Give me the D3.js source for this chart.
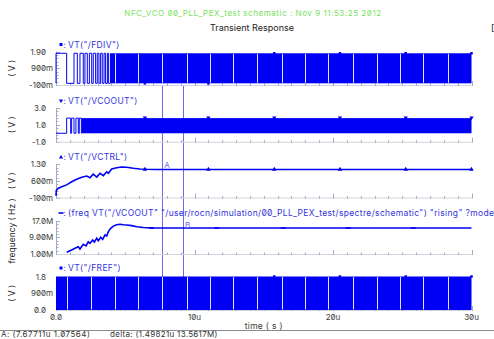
<!DOCTYPE html>
<html>
<head>
<meta charset="utf-8">
<script src="https://cdn.jsdelivr.net/npm/d3@7/dist/d3.min.js"></script>
<style>
  html, body { margin: 0; padding: 0; background: #ffffff; }
  svg { display: block; }
  text { font-family: Inter, "DejaVu Sans", sans-serif; font-feature-settings: "zero" 1; }
</style>
</head>
<body>
<svg id="chart" width="494" height="339"></svg>
<script>
// ---------------- data ----------------
const timeTicks = [0, 10, 20, 30];                       // µs
const timeTickLabels = ["0.0", "10u", "20u", "30u"];

const traceNames = [
  'VT("/FDIV")',
  'VT("/VCOOUT")',
  'VT("/VCTRL")',
  '(freq VT("/VCOOUT" "/user/rocn/simulation/00_PLL_PEX_test/spectre/schematic") "rising" ?mode',
  'VT("/FREF")'
];
const traceSymbols = ["square", "triDown", "triUp", "dash", "square"];
const yTicks = [[-0.1, 0.9, 1.9], [-1, 1, 3], [-0.1, 0.6, 1.3], [1, 9, 17], [0, 0.9, 1.8]];
const yTickLabels = [
  ["-100m", "900m", "1.90"], ["-1.0", "1.0", "3.0"], ["-100m", "600m", "1.30"],
  ["1.00M", "9.00M", "17.0M"], ["0.0", "900m", "1.8"]
];
const yUnits = ["( V )", "( V )", "( V )", "frequency ( Hz )", "( V )"];

// digital levels (V)
const clockLow = 0, clockHigh = 1.8;

// FDIV: starts high, toggles at each edge (µs), then becomes too dense to resolve
const fdivEdges = [0.77, 1.30, 1.54, 1.73, 1.97, 2.09, 2.26, 2.41, 2.58, 2.69, 2.86,
                   2.98, 3.10, 3.22, 3.34, 3.47, 3.58, 3.71, 3.80];
const fdivDenseFrom = 3.90;
// VCOOUT: starts low
const vcoEdges = [0.77, 1.06, 1.13, 1.30, 1.44, 1.61, 1.68, 1.83];
const vcoDenseFrom = 1.85;
const frefDenseFrom = 0;
// instants where the dense clocks FDIV/FREF show an open gap
const clockGapTimes = [0.77, 2.51, 4.26, 5.94, 7.67, 9.44, 11.12, 12.78, 14.49, 16.30,
                       17.98, 19.66, 21.47, 23.16, 24.84, 26.52, 28.33];

// VCTRL (V)
const vctrlT = [0, 0.02, 0.17, 0.41, 0.77, 1.13, 1.49, 1.86, 2.22, 2.45, 2.69, 2.94, 3.18,
                3.42, 3.66, 3.78, 4.02, 4.38, 4.74, 5.10, 5.58, 6.06, 6.55, 7.20, 30];
const vctrlV = [-0.03, 0.20, 0.29, 0.35, 0.43, 0.56, 0.67, 0.75, 0.80, 0.73, 0.88, 0.76, 0.92,
                0.82, 0.98, 0.92, 1.10, 1.15, 1.18, 1.17, 1.13, 1.10, 1.085, 1.076, 1.07564];

// VCO frequency (MHz)
const freqT = [0.77, 1.13, 1.37, 1.61, 1.73, 1.97, 2.17, 2.33, 2.45, 2.65, 2.77, 2.94, 3.06,
               3.23, 3.37, 3.54, 3.66, 3.78, 3.95, 4.14, 4.38, 4.62, 4.86, 5.10, 5.47, 5.83,
               6.30, 6.90, 7.50, 30];
const freqMHz = [1.8, 2.9, 3.75, 4.5, 3.4, 5.7, 4.9, 6.9, 6.2, 7.8, 6.8, 8.6, 7.4,
                 9.1, 8.1, 10.2, 9.7, 11.8, 13.4, 14.5, 15.15, 15.35, 15.15, 15.0, 14.7, 14.2,
                 13.8, 13.62, 13.57, 13.5617];

const markerTimes = [6.42, 11.0, 15.76, 20.5, 25.25, 30.0];
const freqMarkerTimes = [6.9, 11.6, 16.4, 21.1, 25.8];

// cursors: [time µs, value]
const cursorA = [7.67711, 1.07564];          // on VCTRL (V)
const cursorB = [9.17532, 13.5617];          // on frequency (MHz)

// ---------------- layout ----------------
const svg = d3.select("#chart");
const BLUE = "#0000f4", TITLE = "#3434dc", CURSOR = "#6c6cea", AXIS = "#a9a9c4", INK = "#3a3a3a";

const x = d3.scaleLinear().domain([0, 30]).range([56, 471.5]);

const panels = [
  { domain: [-0.1, 1.9], range: [85, 51.6], titleY: 47 },
  { domain: [-1, 3],     range: [141.7, 108], titleY: 103.5 },
  { domain: [-0.1, 1.3], range: [197.5, 164.2], titleY: 159.5 },
  { domain: [1, 17],     range: [254, 220.9], titleY: 215.5 },
  { domain: [0, 1.8],    range: [310, 276.5], titleY: 270.5 }
];
const ys = panels.map(p => d3.scaleLinear().domain(p.domain).range(p.range));

// header
svg.append("text").attr("x", 253).attr("y", 16).attr("text-anchor", "middle")
  .attr("font-size", 8).attr("letter-spacing", 0.55).attr("fill", "#78e35c")
  .text("NFC_VCO 00_PLL_PEX_test schematic : Nov  9 11:53:25 2012");
svg.append("text").attr("x", 252).attr("y", 31).attr("text-anchor", "middle")
  .attr("font-size", 9).attr("fill", "#222").text("Transient Response");
svg.append("text").attr("x", 491).attr("y", 31).attr("font-size", 9).attr("fill", "#222").text("[");

// cursor verticals (beneath traces)
const cursorG = svg.append("g");
[cursorA, cursorB].forEach(c => {
  cursorG.append("line")
    .attr("x1", Math.round(x(c[0])) + 0.5).attr("x2", Math.round(x(c[0])) + 0.5)
    .attr("y1", 86).attr("y2", 309)
    .attr("stroke", CURSOR).attr("stroke-width", 1);
});

// symbol painter
function marker(g, kind, cx, cy, size) {
  const s = size || 3;
  let p;
  if (kind === "square") p = `M${cx - s / 2},${cy - s / 2}h${s}v${s}h${-s}z`;
  else if (kind === "triUp") p = `M${cx},${cy - s * 0.7}L${cx + s * 0.7},${cy + s * 0.5}L${cx - s * 0.7},${cy + s * 0.5}z`;
  else if (kind === "triDown") p = `M${cx},${cy + s * 0.7}L${cx + s * 0.7},${cy - s * 0.5}L${cx - s * 0.7},${cy - s * 0.5}z`;
  else p = `M${cx - s},${cy - 0.8}h${2 * s}v1.6h${-2 * s}z`;
  g.append("path").attr("d", p).attr("fill", BLUE);
}

function splitLabel(s) {
  const m = s.match(/^(.*?)([mMu]?)$/);
  return [m[1], m[2]];
}

panels.forEach((p, i) => {
  const y = ys[i];
  const g = svg.append("g");
  const yb = p.range[0], yt = p.range[1];

  // left axis with minor ticks
  g.append("line").attr("x1", 56.5).attr("x2", 56.5).attr("y1", yt).attr("y2", yb)
    .attr("stroke", AXIS);
  const tv = yTicks[i];
  const minor = [];
  for (let k = 0; k < tv.length - 1; k++) {
    for (let j = 1; j < 5; j++) minor.push(tv[k] + (tv[k + 1] - tv[k]) * j / 5);
  }
  minor.forEach(v => g.append("line").attr("x1", 56.5).attr("x2", 58.5)
    .attr("y1", Math.round(y(v)) + 0.5).attr("y2", Math.round(y(v)) + 0.5).attr("stroke", AXIS));
  tv.forEach((v, k) => {
    g.append("line").attr("x1", 56.5).attr("x2", 60)
      .attr("y1", Math.round(y(v)) + 0.5).attr("y2", Math.round(y(v)) + 0.5).attr("stroke", AXIS);
    const [num, suf] = splitLabel(yTickLabels[i][k]);
    g.append("text").attr("x", 46).attr("y", y(v) + 3).attr("text-anchor", "end")
      .attr("font-size", 8).attr("fill", INK).text(num);
    if (suf) g.append("text").attr("x", 46).attr("y", y(v) + 3).attr("font-size", 8)
      .attr("fill", INK).text(suf);
  });

  // bottom time-tick row
  g.append("line").attr("x1", 56).attr("x2", 471.5).attr("y1", yb + 0.5).attr("y2", yb + 0.5)
    .attr("stroke", "#d2d2dc");
  d3.range(0, 31).forEach(t => {
    const big = t % 10 === 0;
    g.append("line").attr("x1", Math.round(x(t)) + 0.5).attr("x2", Math.round(x(t)) + 0.5)
      .attr("y1", yb + 1).attr("y2", yb - (big ? 4 : 1.5)).attr("stroke", AXIS);
  });

  // unit label
  const midY = i === 3 ? 231 : (yb + yt) / 2;
  svg.append("text").attr("transform", `translate(15,${midY}) rotate(-90)`)
    .attr("text-anchor", "middle").attr("font-size", 8.5).attr("fill", "#222").text(yUnits[i]);

  // trace title
  marker(g, traceSymbols[i], 61, p.titleY - 2.5, traceSymbols[i] === "dash" ? 2.5 : 3);
  g.append("text").attr("x", 63.5).attr("y", p.titleY + 0.5).attr("font-size", 8)
    .attr("fill", TITLE).text(":");
  g.append("text").attr("x", 68).attr("y", p.titleY + 0.5).attr("font-size", 8.5)
    .attr("letter-spacing", 0.35).attr("fill", TITLE).text(traceNames[i]);
});

// ---------------- traces ----------------
const stepLine = y => d3.line().x(d => x(d[0])).y(d => y(d[1])).curve(d3.curveStepAfter);

function edgesToPoints(startLevel, edges, endT) {
  const pts = [[0, clockLow], [0, startLevel]];
  let lvl = startLevel;
  edges.forEach(t => { lvl = lvl === clockHigh ? clockLow : clockHigh; pts.push([t, lvl]); });
  pts.push([endT, lvl]);
  return pts;
}

function denseBlock(y, from, gaps) {
  const g = svg.append("g");
  g.append("rect").attr("x", x(from)).attr("width", x(30) - x(from))
    .attr("y", y(clockHigh)).attr("height", y(clockLow) - y(clockHigh)).attr("fill", BLUE);
  gaps.filter(t => t > from + 0.3).forEach(t => {
    g.append("line").attr("x1", Math.round(x(t)) + 0.5).attr("x2", Math.round(x(t)) + 0.5)
      .attr("y1", y(clockHigh) + 0.5).attr("y2", y(clockLow) - 0.5)
      .attr("stroke", "#dfe2ff").attr("stroke-width", 1);
  });
}

// FDIV
svg.append("path").datum(edgesToPoints(clockHigh, fdivEdges, fdivDenseFrom))
  .attr("d", stepLine(ys[0])).attr("fill", "none").attr("stroke", BLUE).attr("stroke-width", 1);
denseBlock(ys[0], fdivDenseFrom, clockGapTimes);

// VCOOUT
svg.append("path").datum(edgesToPoints(clockLow, vcoEdges, vcoDenseFrom).slice(1))
  .attr("d", stepLine(ys[1])).attr("fill", "none").attr("stroke", BLUE).attr("stroke-width", 1);
denseBlock(ys[1], vcoDenseFrom, []);

// VCTRL
const line = y => d3.line().x(d => x(d[0])).y(d => y(d[1]));
svg.append("path").datum(vctrlT.map((t, k) => [t, vctrlV[k]]))
  .attr("d", line(ys[2])).attr("fill", "none").attr("stroke", BLUE).attr("stroke-width", 1.6);

// frequency
svg.append("path").datum(freqT.map((t, k) => [t, freqMHz[k]]))
  .attr("d", line(ys[3])).attr("fill", "none").attr("stroke", BLUE).attr("stroke-width", 1.6);

// FREF
denseBlock(ys[4], frefDenseFrom, clockGapTimes);

// trace markers
const mg = svg.append("g");
markerTimes.forEach((t, k) => {
  marker(mg, "square", x(t), ys[0](k < 2 ? clockLow : clockHigh), 2.5);
  marker(mg, "triDown", x(t), ys[1](clockHigh), 3);
  marker(mg, "triUp", x(t), ys[2](1.07564) - 0.5, 3.2);
  if (k >= 2) marker(mg, "square", x(t), ys[4](clockHigh), 2.5);
});
freqMarkerTimes.forEach(t => marker(mg, "dash", x(t), ys[3](13.5617), 2.5));

// cursor labels
svg.append("text").attr("x", x(cursorA[0]) + 2).attr("y", ys[2](cursorA[1]) - 1.5)
  .attr("font-size", 8).attr("fill", CURSOR).text("A");
svg.append("text").attr("x", x(cursorB[0]) + 2).attr("y", ys[3](cursorB[1]) - 0.5)
  .attr("font-size", 8).attr("fill", CURSOR).text("B");

// time axis
timeTicks.forEach((t, k) => {
  svg.append("text").attr("x", x(t)).attr("y", 320).attr("text-anchor", "middle")
    .attr("font-size", 8).attr("fill", INK).text(timeTickLabels[k]);
});
svg.append("text").attr("x", x(15)).attr("y", 328.5).attr("text-anchor", "middle")
  .attr("font-size", 8.5).attr("letter-spacing", 0.3).attr("fill", INK).text("time ( s )");

// cursor readout strip
svg.append("line").attr("x1", 0).attr("x2", 494).attr("y1", 330.5).attr("y2", 330.5)
  .attr("stroke", "#8c8c8c");
const fmt = d3.format(".6~r");
const dT = cursorB[0] - cursorA[0];
const dV = cursorB[1] * 1e6 - cursorA[1];
svg.append("text").attr("x", 1).attr("y", 336.5).attr("font-size", 8).attr("letter-spacing", 0.5)
  .attr("fill", "#333").text(`A: (${fmt(cursorA[0])}u ${fmt(cursorA[1])})`);
svg.append("text").attr("x", 110).attr("y", 336.5).attr("font-size", 8).attr("letter-spacing", 0.3)
  .attr("fill", "#333")
  .text(`delta: (${d3.format(".5f")(dT)}u ${d3.format(".4f")(dV / 1e6)}M)`);
svg.append("text").attr("x", 1).attr("y", 346).attr("font-size", 8).attr("letter-spacing", 0.5)
  .attr("fill", "#333").text(`B: (${fmt(cursorB[0])}u ${fmt(cursorB[1])}M)`);
svg.append("text").attr("x", 110).attr("y", 346).attr("font-size", 8).attr("letter-spacing", 0.3)
  .attr("fill", "#333").text(`slope: ${d3.format(".6~r")(dV / dT / 1e6)}T`);
</script>
</body>
</html>
